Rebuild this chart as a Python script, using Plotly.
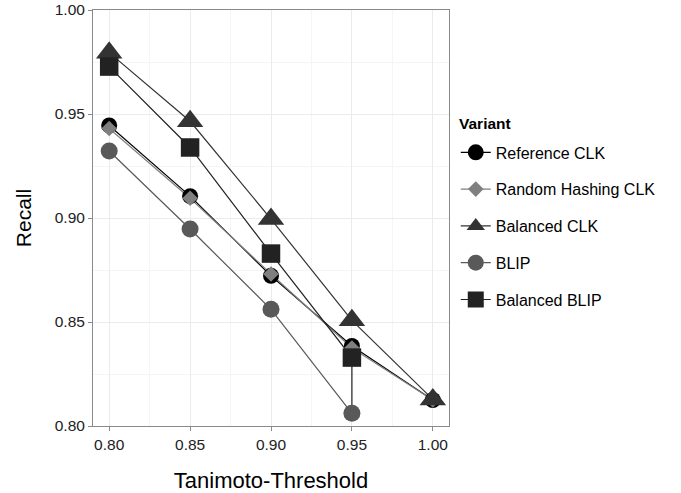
import plotly.graph_objects as go

# ---- data ----
thresholds = [0.80, 0.85, 0.90, 0.95, 1.00]

ref_clk_x = [0.80, 0.85, 0.90, 0.95, 1.00]
ref_clk_y = [0.9445, 0.9105, 0.8722, 0.8385, 0.8125]

rnd_clk_x = [0.80, 0.85, 0.90, 0.95, 1.00]
rnd_clk_y = [0.9430, 0.9095, 0.8731, 0.8375, 0.8125]

bal_clk_x = [0.80, 0.85, 0.90, 0.95, 1.00]
bal_clk_y = [0.9795, 0.9465, 0.8995, 0.8508, 0.8128]

blip_x = [0.80, 0.85, 0.90, 0.95]
blip_y = [0.9322, 0.8947, 0.8561, 0.8061]

bal_blip_x = [0.80, 0.85, 0.90, 0.95]
bal_blip_y = [0.9728, 0.9339, 0.8829, 0.8329]
# the Balanced BLIP path in the reference ends on the BLIP point at 0.95
bal_blip_line_x = bal_blip_x + [blip_x[-1]]
bal_blip_line_y = bal_blip_y + [blip_y[-1]]

names = ["Reference CLK", "Random Hashing CLK", "Balanced CLK", "BLIP", "Balanced BLIP"]
legend_title = "Variant"
colors = ["#000000", "#7f7f7f", "#333333", "#595959", "#222222"]
symbols = ["circle", "diamond", "triangle-up", "circle", "square"]
sizes = [16, 12, 23, 17, 18.5]

points = [(ref_clk_x, ref_clk_y), (rnd_clk_x, rnd_clk_y), (bal_clk_x, bal_clk_y),
          (blip_x, blip_y), (bal_blip_x, bal_blip_y)]
paths = [(ref_clk_x, ref_clk_y), (rnd_clk_x, rnd_clk_y), (bal_clk_x, bal_clk_y),
         (blip_x, blip_y), (bal_blip_line_x, bal_blip_line_y)]

fig = go.Figure()

# lines first (like ggplot's geom_line layer)
for (px, py), c in zip(paths, colors):
    fig.add_trace(go.Scatter(x=px, y=py, mode="lines", line=dict(color=c, width=1.2),
                             showlegend=False, hoverinfo="skip"))

# points on top
for (px, py), c, s, sz, n in zip(points, colors, symbols, sizes, names):
    fig.add_trace(go.Scatter(x=px, y=py, mode="markers", name=n,
                             marker=dict(color=c, symbol=s, size=sz, line=dict(width=0)),
                             showlegend=False))

# legend entries (line + marker glyph)
for c, s, sz, n in zip(colors, symbols, sizes, names):
    fig.add_trace(go.Scatter(x=[None], y=[None], mode="lines+markers", name=n,
                             legendgroup=n,
                             line=dict(color=c, width=1.2),
                             marker=dict(color=c, symbol=s, size=sz, line=dict(width=0))))

axis_common = dict(
    showline=True, mirror=True, linecolor="#8a8a8a", linewidth=1,
    ticks="outside", ticklen=4, tickcolor="#8a8a8a", tickwidth=1,
    showgrid=True, gridcolor="#ebebeb", gridwidth=1,
    zeroline=False, tickformat=".2f", automargin=False,
    tickfont=dict(family="Liberation Sans, Arial, sans-serif", size=15.5, color="#222222"),
)

fig.update_layout(
    width=681, height=493,
    margin=dict(l=93, r=232, t=10, b=67, autoexpand=False),
    plot_bgcolor="white", paper_bgcolor="white",
    font=dict(family="Liberation Sans, Arial, sans-serif", color="#000000"),
    xaxis=dict(range=[0.79, 1.01], tickvals=thresholds,
               minor=dict(dtick=0.025, tick0=0.775, showgrid=True, gridcolor="#f5f5f5", ticks=""),
               title=dict(text="Tanimoto-Threshold", font=dict(size=22), standoff=23),
               **axis_common),
    yaxis=dict(range=[0.80, 1.00], tick0=0.80, dtick=0.05,
               minor=dict(dtick=0.025, tick0=0.775, showgrid=True, gridcolor="#f5f5f5", ticks=""),
               title=dict(text="Recall", font=dict(size=21), standoff=17),
               **axis_common),
    legend=dict(
        font=dict(size=16),
        x=1.019, xanchor="left", y=0.481, yanchor="middle",
        tracegroupgap=13, itemsizing="trace",
        bgcolor="rgba(0,0,0,0)",
    ),
    annotations=[dict(text="<b>%s</b>" % legend_title, xref="paper", yref="paper",
                      x=1.0225, y=0.728, xanchor="left", yanchor="middle",
                      showarrow=False, font=dict(size=15.5, color="#000000"))],
)

fig.write_html("out.html")
